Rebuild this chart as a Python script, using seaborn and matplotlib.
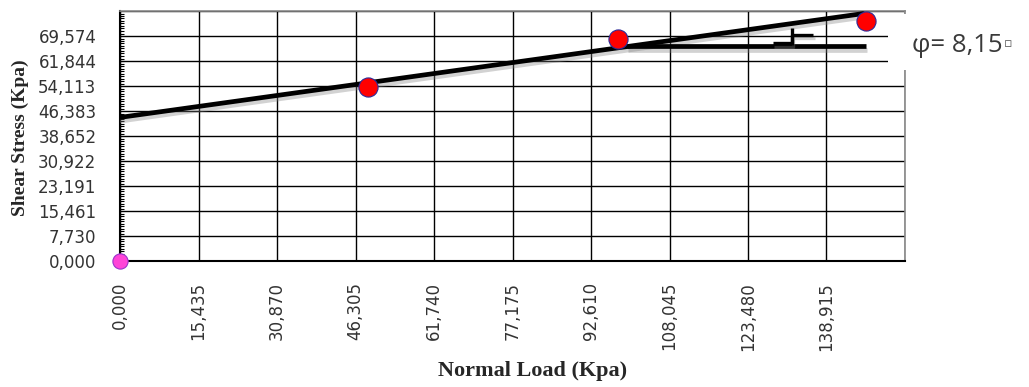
import matplotlib
matplotlib.use("Agg")
import matplotlib.pyplot as plt
import matplotlib.patheffects as pe
from matplotlib.patches import Rectangle
from matplotlib.ticker import FixedLocator, MultipleLocator
import numpy as np
import pandas as pd
import seaborn as sns

# ---- data ----
normal_load = [48.8, 98.0, 146.7]
shear_stress = [53.7, 68.5, 74.3]
origin_x = [0.0]
origin_y = [0.0]
trend_x = [0.0, 146.1]
trend_y = [44.4, 76.5]
angle_base_x = [99.7, 146.7]
angle_base_y = [66.4, 66.4]
arc_x = [128.4, 132.1, 132.1, 136.3]
arc_y = [67.4, 67.4, 69.9, 69.9]
arc_v_x = [132.1, 132.1]
arc_v_y = [72.0, 66.8]
x_ticks = [0.000, 15.435, 30.870, 46.305, 61.740, 77.175, 92.610, 108.045, 123.480, 138.915]
y_ticks = [0.000, 7.730, 15.461, 23.191, 30.922, 38.652, 46.383, 54.113, 61.844, 69.574]
x_max = 154.350
y_max = 77.304
phi_value = "φ= 8,15"
phi_mark = "▫"

sns.set_style("white")
plt.rcParams['font.family'] = ['DejaVu Sans']

fig = plt.figure(figsize=(10.29, 3.87), dpi=100)
ax = fig.add_axes([120/1029, 1-261/387, (905-120)/1029, (261-11)/387])

pts = pd.DataFrame({"x": normal_load, "y": shear_stress})
org = pd.DataFrame({"x": origin_x, "y": origin_y})
trend = pd.DataFrame({"x": trend_x, "y": trend_y})

shadow = [pe.SimpleLineShadow(offset=(1.0, -2.5), shadow_color="gray", alpha=0.35), pe.Normal()]

sns.lineplot(data=trend, x="x", y="y", ax=ax, color="black", lw=3.4, zorder=3,
             path_effects=shadow)
ax.plot(angle_base_x, angle_base_y, color="black", lw=3.4, zorder=3, path_effects=shadow,
        solid_capstyle="butt")
ax.plot(arc_x, arc_y, color="black", lw=2.4, zorder=3, path_effects=shadow,
        solid_capstyle="butt")
ax.plot(arc_v_x, arc_v_y, color="black", lw=2.4, zorder=3, solid_capstyle="butt")

sns.scatterplot(data=pts, x="x", y="y", ax=ax, color="#FF0000", edgecolor="#2B2B9A",
                linewidth=0.8, s=190, zorder=4, clip_on=False)
sns.scatterplot(data=org, x="x", y="y", ax=ax, color="#FF44D8", edgecolor="#9933CC",
                linewidth=0.8, s=120, zorder=5, clip_on=False)

ax.set_xlim(0, x_max)
ax.set_ylim(0, y_max)
ax.xaxis.set_major_locator(FixedLocator(x_ticks + [x_max]))
ax.yaxis.set_major_locator(FixedLocator(y_ticks + [y_max]))
ax.set_xticklabels([f"{v:.3f}".replace(".", ",") for v in x_ticks] + [""])
ax.set_yticklabels([f"{v:.3f}".replace(".", ",") for v in y_ticks] + [""])
ax.yaxis.set_minor_locator(MultipleLocator(y_max / 100))

ax.grid(True, which="major", color="black", lw=1.0)
ax.set_axisbelow(True)

for s in ["left", "bottom"]:
    ax.spines[s].set_color("black")
    ax.spines[s].set_linewidth(1.5)
for s in ["top", "right"]:
    ax.spines[s].set_color("#888888")
    ax.spines[s].set_linewidth(1.2)

ax.tick_params(axis="x", which="major", direction="out", length=5, width=1.2,
               color="black", pad=10, labelsize=12, labelrotation=90, labelcolor="#333333")
ax.tick_params(axis="y", which="major", length=0, pad=17, labelsize=12, labelcolor="#333333")
ax.tick_params(axis="y", which="minor", left=True, direction="in", length=3, width=0.8,
               color="black")

ax.set_xlabel("Normal Load (Kpa)", family=["Liberation Serif"], fontweight="bold",
              fontsize=16, labelpad=10)
ax.set_ylabel("Shear Stress (Kpa)", family=["Liberation Serif"], fontweight="bold",
              fontsize=14, labelpad=4)
ax.xaxis.set_label_coords((533-120)/785, -(361-261)/250)
ax.yaxis.set_label_coords(-(120-12)/785, (261-138)/250)
ax.yaxis.label.set_va("top")

# white label box to the right of the plot
fig.add_artist(Rectangle((888/1029, 1-70/387), (1029-888)/1029, (70-14)/387,
                         transform=fig.transFigure, facecolor="white", edgecolor="none",
                         zorder=5))
t = fig.text(912/1029, 1-46/387, phi_value, family=["Open Sans", "DejaVu Sans"],
             fontsize=18.5, color="#3a3a3a", ha="left", va="center", zorder=6)
fig.canvas.draw()
bb = t.get_window_extent()
fig.text((bb.x1 + 1)/1029, 1-44/387, phi_mark, family=["DejaVu Sans"],
         fontsize=9, color="#555555", ha="left", va="center", zorder=6)

fig.savefig("out.png", dpi=100)
